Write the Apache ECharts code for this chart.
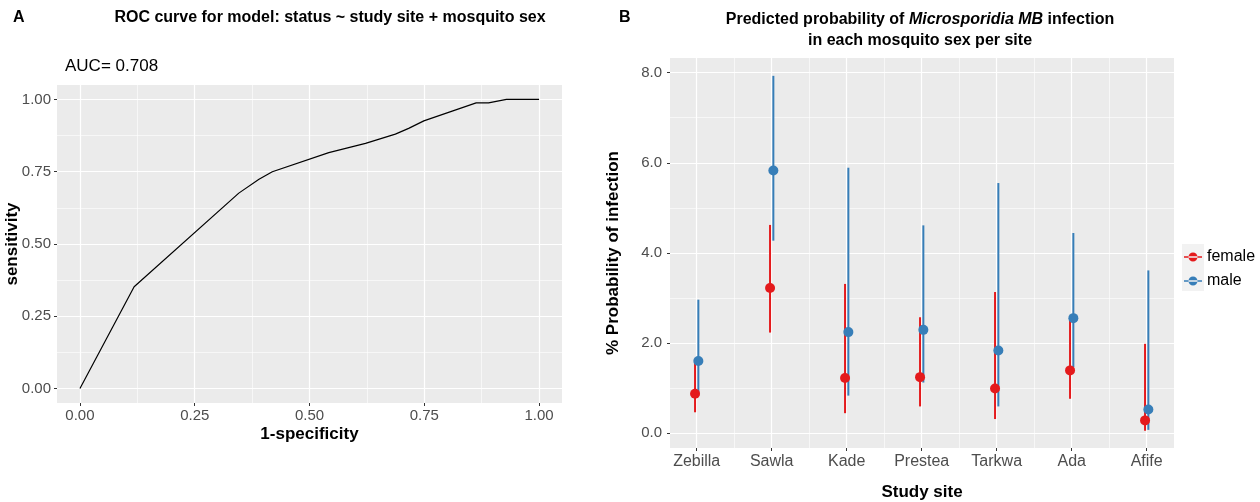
<!DOCTYPE html>
<html><head><meta charset="utf-8">
<script src="https://cdn.jsdelivr.net/npm/echarts@6/dist/echarts.min.js"></script>
<style>html,body{margin:0;padding:0;background:#fff}#c{width:1260px;height:502px}</style>
</head><body><div id="c"></div><script>
// ROC curve (panel A)
const rocFpr = [0, 0.118, 0.346, 0.390, 0.419, 0.542, 0.622, 0.687, 0.716, 0.749, 0.863, 0.890, 0.929, 1.0];
const rocTpr = [0, 0.352, 0.676, 0.724, 0.750, 0.816, 0.848, 0.880, 0.900, 0.926, 0.988, 0.988, 1.0, 1.0];
const rocTicks = [0, 0.25, 0.5, 0.75, 1];
const rocMinorTicks = [0.125, 0.375, 0.625, 0.875];
const aucLabel = 'AUC= 0.708';

// Predicted probability (panel B)
const sites = ['Zebilla', 'Sawla', 'Kade', 'Prestea', 'Tarkwa', 'Ada', 'Afife'];
const femaleEst = [0.87, 3.22, 1.22, 1.24, 0.99, 1.39, 0.28];
const femaleLo  = [0.46, 2.23, 0.44, 0.59, 0.31, 0.76, 0.05];
const femaleHi  = [1.65, 4.62, 3.31, 2.57, 3.13, 2.53, 1.98];
const maleEst   = [1.60, 5.83, 2.24, 2.29, 1.83, 2.55, 0.52];
const maleLo    = [0.89, 4.27, 0.83, 1.12, 0.59, 1.46, 0.07];
const maleHi    = [2.96, 7.93, 5.89, 4.61, 5.55, 4.44, 3.61];
const probTicks = [0, 2, 4, 6, 8];
const probMinorTicks = [1, 3, 5, 7];
const siteMinorTicks = [1.5, 2.5, 3.5, 4.5, 5.5, 6.5];

const RED = '#E41A1C', BLUE = '#377EB8';
const FONT = 'Liberation Sans';
const dodge = 0.022;

const chart = echarts.init(document.getElementById('c'), null, {renderer: 'canvas'});

function majorAxis(gridIndex, pos, min, max, ticks, fmt, margin, name, nameGap, labelSize) {
  return {
    type: 'value', gridIndex, position: pos, min, max,
    axisLine: {show: false, onZero: false},
    axisTick: {show: true, customValues: ticks, length: 3, lineStyle: {color: '#333333', width: 1}},
    axisLabel: {show: true, customValues: ticks, formatter: fmt, margin,
      color: '#4D4D4D', fontSize: labelSize, fontFamily: FONT},
    splitLine: {show: true, lineStyle: {color: '#FFFFFF', width: 1.2}},
    name, nameLocation: 'middle', nameGap, nameMoveOverlap: false,
    nameTextStyle: {fontFamily: FONT, fontWeight: 'bold', fontSize: 17, color: '#000'}
  };
}
function minorAxis(gridIndex, pos, min, max, ticks) {
  return {
    type: 'value', gridIndex, position: pos, min, max,
    axisLine: {show: false, onZero: false},
    axisTick: {show: false, customValues: ticks},
    axisLabel: {show: false, customValues: ticks},
    splitLine: {show: true, lineStyle: {color: '#FFFFFF', width: 0.6}}
  };
}

const femaleCI = sites.map((s, i) => [i + 1 - dodge, femaleLo[i], femaleHi[i]]);
const maleCI = sites.map((s, i) => [i + 1 + dodge, maleLo[i], maleHi[i]]);
const femalePts = sites.map((s, i) => [i + 1 - dodge, femaleEst[i]]);
const malePts = sites.map((s, i) => [i + 1 + dodge, maleEst[i]]);

function ciRender(color) {
  return function (params, api) {
    const p1 = api.coord([api.value(0), api.value(1)]);
    const p2 = api.coord([api.value(0), api.value(2)]);
    return {type: 'line', shape: {x1: p1[0], y1: p1[1], x2: p2[0], y2: p2[1]},
      style: {stroke: color, lineWidth: 2}};
  };
}

const keyIcon = 'path://M0,3.8 L18,3.8 L18,5.2 L0,5.2 Z M4.5,4.5 A4.5,4.5 0 1,0 13.5,4.5 A4.5,4.5 0 1,0 4.5,4.5 Z';

chart.setOption({
  animation: false,
  backgroundColor: '#FFFFFF',
  title: [
    {text: 'A', left: 13, top: 10, padding: 0, textStyle: {fontFamily: FONT, fontWeight: 'bold', fontSize: 16, color: '#000'}},
    {text: 'ROC curve for model: status ~ study site + mosquito sex', left: 330, top: 10, textAlign: 'center', padding: 0,
      textStyle: {fontFamily: FONT, fontWeight: 'bold', fontSize: 16, color: '#000'}},
    {text: aucLabel, left: 65, top: 58, padding: 0, textStyle: {fontFamily: FONT, fontWeight: 'normal', fontSize: 17, color: '#000'}},
    {text: 'B', left: 619, top: 10, padding: 0, textStyle: {fontFamily: FONT, fontWeight: 'bold', fontSize: 16, color: '#000'}},
    {text: 'Predicted probability of {i|Microsporidia MB} infection\nin each mosquito sex per site', left: 920, top: 9, textAlign: 'center', padding: 0,
      textStyle: {fontFamily: FONT, fontWeight: 'bold', fontSize: 16, color: '#000', lineHeight: 21, align: 'center',
        rich: {i: {fontFamily: FONT, fontWeight: 'bold', fontStyle: 'italic', fontSize: 16, color: '#000', lineHeight: 21}}}}
  ],
  grid: [
    {left: 57, top: 85, width: 505, height: 318, show: true, backgroundColor: '#EBEBEB', borderWidth: 0, containLabel: false, outerBoundsMode: 'none'},
    {left: 670, top: 58, width: 504, height: 390, show: true, backgroundColor: '#EBEBEB', borderWidth: 0, containLabel: false, outerBoundsMode: 'none'}
  ],
  xAxis: [
    majorAxis(0, 'bottom', -0.05, 1.05, rocTicks, v => v.toFixed(2), 5, '1-specificity', 23, 15),
    minorAxis(0, 'bottom', -0.05, 1.05, rocMinorTicks),
    majorAxis(1, 'bottom', 0.644, 7.364, [1, 2, 3, 4, 5, 6, 7], v => sites[Math.round(v) - 1], 6, 'Study site', 36, 16),
    minorAxis(1, 'bottom', 0.644, 7.364, siteMinorTicks)
  ],
  yAxis: [
    majorAxis(0, 'left', -0.05, 1.05, rocTicks, v => v.toFixed(2), 6, 'sensitivity', 36, 15),
    minorAxis(0, 'left', -0.05, 1.05, rocMinorTicks),
    majorAxis(1, 'left', -0.333, 8.326, probTicks, v => v.toFixed(1), 8, '% Probability of infection', 48, 15),
    minorAxis(1, 'left', -0.333, 8.326, probMinorTicks)
  ],
  legend: {
    left: 1184, top: 249, orient: 'vertical', padding: 0, itemGap: 8, itemWidth: 18, itemHeight: 9,
    textStyle: {fontFamily: FONT, fontSize: 16, color: '#000'},
    selectedMode: false, z: 5,
    data: [
      {name: 'female', icon: keyIcon, itemStyle: {color: RED}},
      {name: 'male', icon: keyIcon, itemStyle: {color: BLUE}}
    ]
  },
  graphic: [
    {type: 'rect', left: 1182, top: 244, shape: {width: 22, height: 47}, style: {fill: '#F2F2F2'}, z: 1}
  ],
  series: [
    {type: 'line', name: 'ROC', xAxisIndex: 0, yAxisIndex: 0, showSymbol: false, symbol: 'none',
      lineStyle: {color: '#000', width: 1.2}, data: rocFpr.map((x, i) => [x, rocTpr[i]])},
    {type: 'custom', name: 'female CI', xAxisIndex: 2, yAxisIndex: 2, renderItem: ciRender(RED), data: femaleCI, z: 2},
    {type: 'custom', name: 'male CI', xAxisIndex: 2, yAxisIndex: 2, renderItem: ciRender(BLUE), data: maleCI, z: 2},
    {type: 'scatter', name: 'female', xAxisIndex: 2, yAxisIndex: 2, symbolSize: 10, itemStyle: {color: RED, opacity: 1}, data: femalePts, z: 3},
    {type: 'scatter', name: 'male', xAxisIndex: 2, yAxisIndex: 2, symbolSize: 10, itemStyle: {color: BLUE, opacity: 1}, data: malePts, z: 3}
  ]
});
</script></body></html>
